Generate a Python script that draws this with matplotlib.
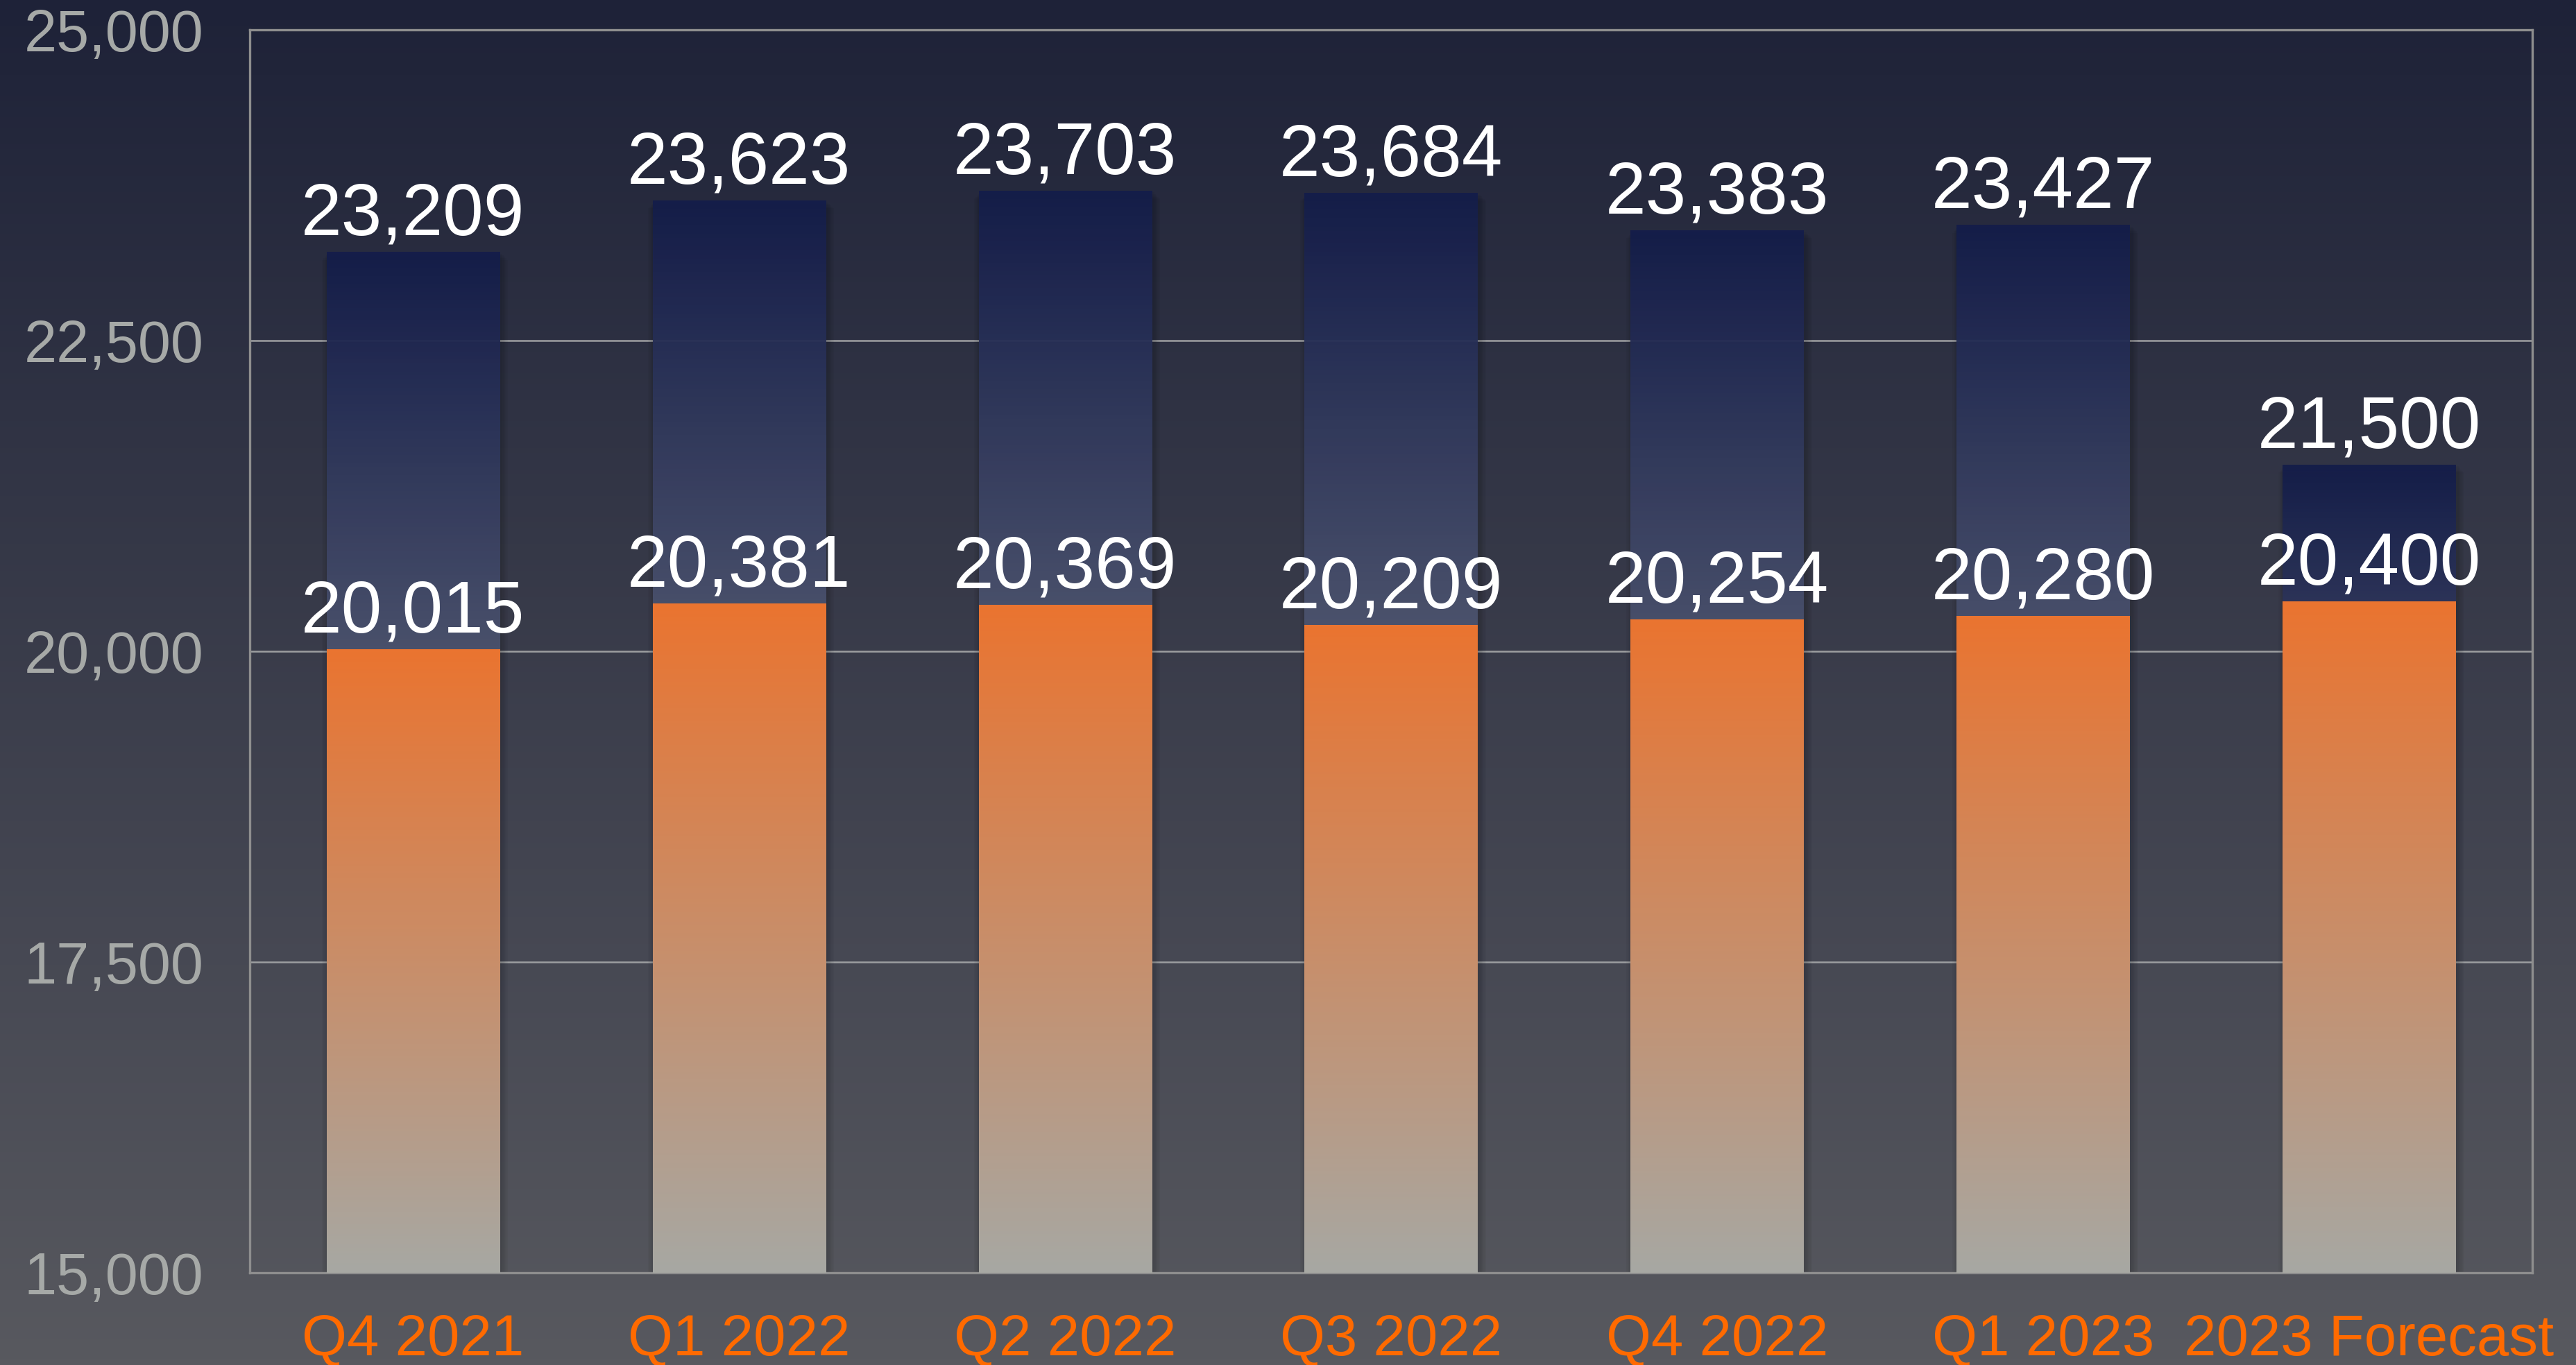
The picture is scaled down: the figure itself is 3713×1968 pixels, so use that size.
import numpy as np
import matplotlib
matplotlib.use("Agg")
import matplotlib.pyplot as plt
from matplotlib.colors import LinearSegmentedColormap
from matplotlib.ticker import FuncFormatter

plt.rcParams['font.family'] = ['Liberation Sans', 'DejaVu Sans']

categories = ["Q4 2021", "Q1 2022", "Q2 2022", "Q3 2022", "Q4 2022", "Q1 2023", "2023 Forecast"]
lower_values = [20015, 20381, 20369, 20209, 20254, 20280, 20400]
upper_values = [23209, 23623, 23703, 23684, 23383, 23427, 21500]
y_ticks = [15000, 17500, 20000, 22500, 25000]

Y_MIN, Y_MAX = 15000, 25000

fig = plt.figure(figsize=(3713 / 200, 1968 / 200), dpi=200)

# background gradient
bg = fig.add_axes([0, 0, 1, 1], zorder=0)
bg_cmap = LinearSegmentedColormap.from_list("bg", ["#58595f", "#1e2238"])
bg.imshow(np.linspace(0, 1, 512).reshape(-1, 1), aspect="auto", cmap=bg_cmap,
          origin="lower", extent=[0, 1, 0, 1])
bg.axis("off")

ax = fig.add_axes([0.097, 0.0676, 0.886, 0.9106], zorder=1)
ax.patch.set_alpha(0)

x = np.arange(len(categories))
lower = np.array(lower_values)
upper = np.array(upper_values)

navy_cmap = LinearSegmentedColormap.from_list("navy", ["#a2a6a6", "#141d4a"])
orange_cmap = LinearSegmentedColormap.from_list("orange", ["#a7a8a3", "#ea7430"])

grad = np.linspace(0, 1, 256).reshape(-1, 1)

navy_bars = ax.bar(x, upper - Y_MIN, bottom=Y_MIN, width=0.53, color="none", zorder=2)
orange_bars = ax.bar(x, lower - Y_MIN, bottom=Y_MIN, width=0.53, color="none", zorder=4)

for p in navy_bars:
    x0, w, y0, h = p.get_x(), p.get_width(), p.get_y(), p.get_height()
    # soft shadow (layered)
    for k in range(1, 6):
        d = 0.004 * k
        ax.add_patch(plt.Rectangle((x0 - d + 0.006, y0 - 12 * k), w + 2 * d, h,
                                   color="black", alpha=0.035, zorder=1.5, lw=0))
    ax.imshow(grad, aspect="auto", cmap=navy_cmap, origin="lower",
              extent=[x0, x0 + w, y0, y0 + h], zorder=2, alpha=0.95)
for p in orange_bars:
    x0, w, y0, h = p.get_x(), p.get_width(), p.get_y(), p.get_height()
    ax.imshow(grad, aspect="auto", cmap=orange_cmap, origin="lower",
              extent=[x0, x0 + w, y0, y0 + h], zorder=3)

for xi, v in zip(x, lower):
    ax.annotate(f"{v:,}", (xi, v), xytext=(0, 9), textcoords="offset points",
                ha="center", va="baseline", color="white", fontsize=38, zorder=6)
for xi, v in zip(x, upper):
    ax.annotate(f"{v:,}", (xi, v), xytext=(0, 9), textcoords="offset points",
                ha="center", va="baseline", color="white", fontsize=38, zorder=6)

ax.set_xlim(-0.5, len(categories) - 0.5)
ax.set_ylim(Y_MIN, Y_MAX)
ax.set_yticks(y_ticks)
ax.yaxis.set_major_formatter(FuncFormatter(lambda v, _: f"{int(v):,}"))
ax.set_xticks(x)
ax.set_xticklabels(categories)
ax.tick_params(axis="x", length=0, pad=21, labelsize=30, labelcolor="#ff6a00")
ax.tick_params(axis="y", length=0, pad=24, labelsize=30.5, labelcolor="#a6a9a7")

ax.grid(axis="y", color="#9c9ea0", linewidth=0.9, zorder=0.5)
ax.set_axisbelow(True)
for s in ax.spines.values():
    s.set_color("#8e8e8e")
    s.set_linewidth(1.2)

fig.savefig("out.png", dpi=200)
